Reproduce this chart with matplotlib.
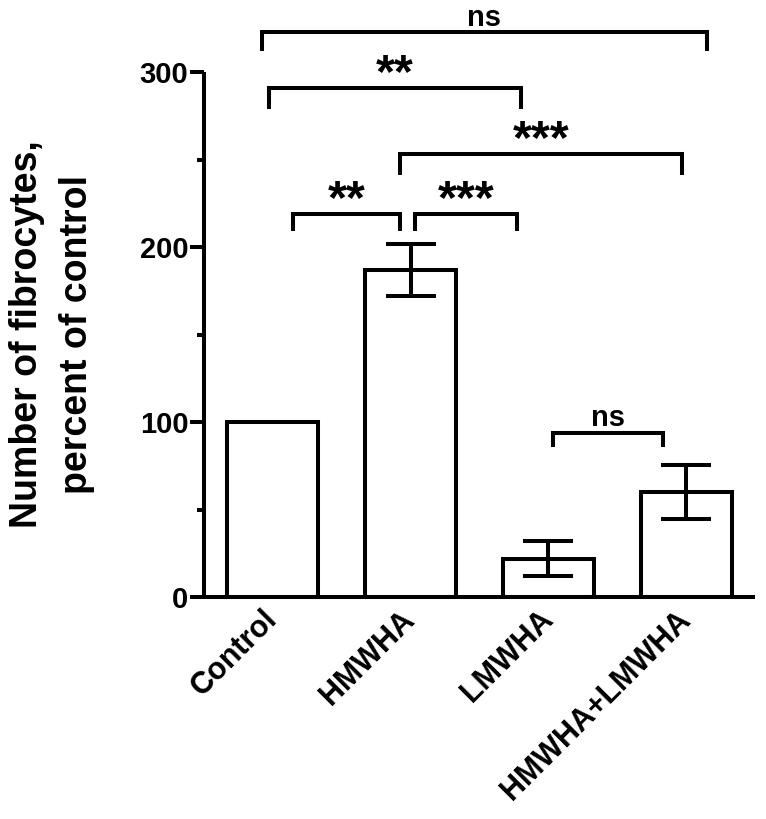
import numpy as np
import matplotlib
matplotlib.use("Agg")
import matplotlib.pyplot as plt

plt.rcParams['font.family'] = ['Liberation Sans', 'DejaVu Sans']
plt.rcParams['font.weight'] = 'bold'

# data
groups = ['Control', 'HMWHA', 'LMWHA', 'HMWHA+LMWHA']
means = [100, 187, 22, 60]
errs = [0, 15, 10, 15.5]

# significance brackets: (left group, right group, bracket level, tick bottom, label)
comparisons = [
    (0, 3, 323, 312, 'ns'),
    (0, 2, 291, 279, '**'),
    (1, 3, 253, 241, '***'),
    (0, 1, 219, 209, '**'),
    (1, 2, 219, 209, '***'),
    (2, 3, 94, 86, 'ns'),
]
# small horizontal shifts (in bar units) so touching brackets don't overlap
bracket_shift = [(-0.08, 0.15), (-0.03, -0.2), (-0.08, -0.03), (0.15, -0.08), (0.03, -0.23), (0.03, -0.17)]

lw = 2.9
fig = plt.figure(figsize=(7.66, 8.19), dpi=100)
ax = fig.add_axes([0.266, 0.271, 0.72, 0.641])

x = np.arange(len(groups))
ax.bar(x, means, width=0.66, color='white', edgecolor='black', linewidth=lw, zorder=2)
ax.errorbar(x[1:], means[1:], yerr=errs[1:], fmt='none', ecolor='black',
            elinewidth=lw, capsize=18, capthick=lw, zorder=3)

ax.set_xlim(-0.5, 3.5)
ax.set_ylim(0, 300)
ax.set_yticks([0, 100, 200, 300])
ax.set_yticks([50, 150, 250], minor=True)
ax.tick_params(axis='y', which='major', length=10, width=lw, labelsize=21, pad=1)
ax.tick_params(axis='y', which='minor', length=5, width=lw)
ax.tick_params(axis='x', length=0, pad=13)
ax.set_xticks(x)
ax.set_xticklabels(groups, rotation=45, ha='right', va='center',
                   rotation_mode='anchor', fontsize=22, fontweight='bold')
for t in ax.get_yticklabels():
    t.set_fontweight('bold')

for s in ['top', 'right']:
    ax.spines[s].set_visible(False)
for s in ['left', 'bottom']:
    ax.spines[s].set_linewidth(lw)
    ax.spines[s].set_capstyle('butt')

ax.set_ylabel('Number of fibrocytes,\npercent of control', fontsize=27,
              fontweight='bold', labelpad=32, linespacing=1.52)

for (i, j, lev, bot, lab), (dl, dr) in zip(comparisons, bracket_shift):
    xl, xr = i + dl, j + dr
    ax.plot([xl, xl, xr, xr], [bot, lev, lev, bot], color='black', lw=lw,
            clip_on=False, solid_joinstyle='miter', solid_capstyle='butt')
    if lab == 'ns':
        ax.text((xl + xr) / 2, lev + 3.5, lab, ha='center', va='baseline',
                fontsize=21, fontweight='bold', clip_on=False)
    else:
        ax.text((xl + xr) / 2, lev + 0.5, lab, ha='center', va='baseline',
                fontsize=35, fontweight='bold', clip_on=False)

fig.savefig('out.png', dpi=100)
